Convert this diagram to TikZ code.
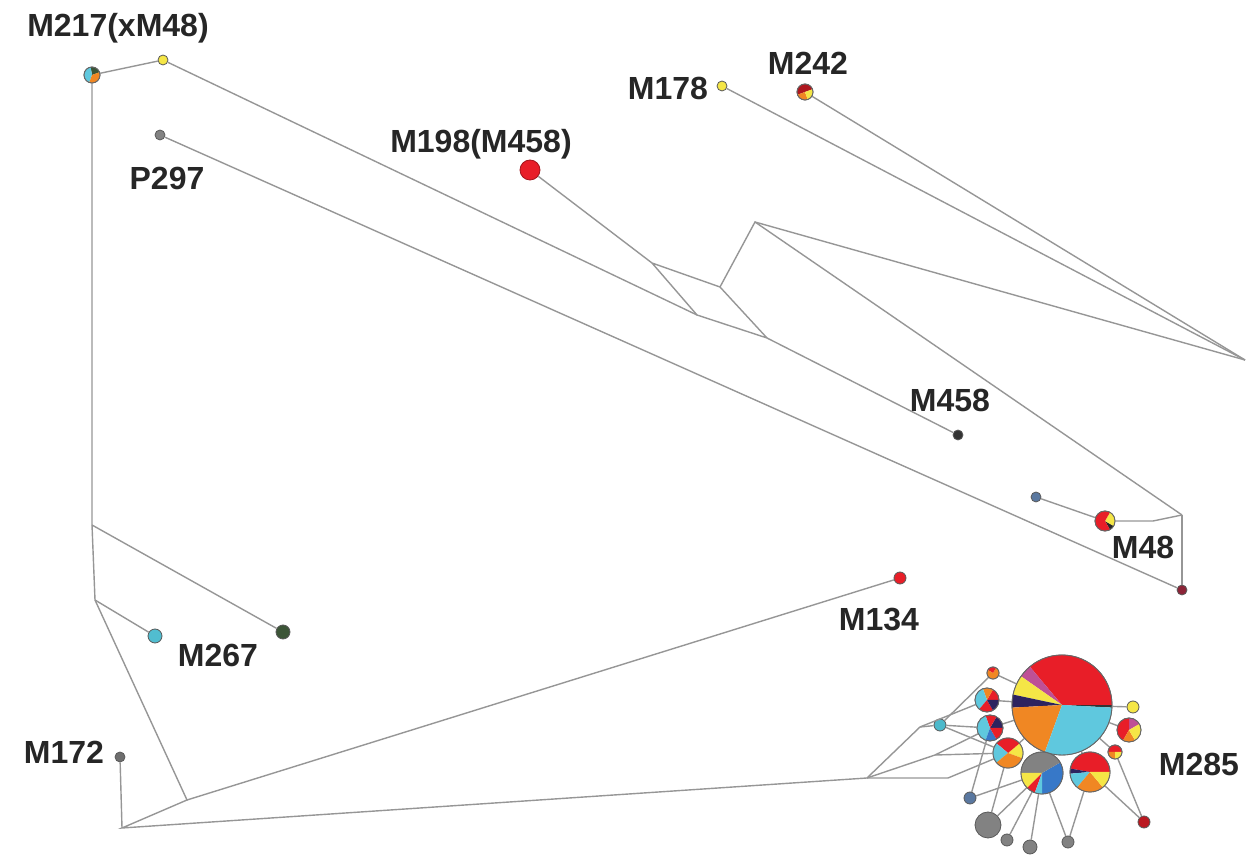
\documentclass[tikz,border=0pt]{standalone}
\usepackage{fontspec}
\setmainfont{Liberation Sans}
\usetikzlibrary{positioning,calc}
\definecolor{hred}{RGB}{232,30,40}
\definecolor{hcyan}{RGB}{95,200,222}
\definecolor{horange}{RGB}{240,135,35}
\definecolor{hyellow}{RGB}{245,230,70}
\definecolor{hgray}{RGB}{130,130,130}
\definecolor{hnavy}{RGB}{45,35,95}
\definecolor{hblue}{RGB}{55,120,200}
\definecolor{hmag}{RGB}{190,80,150}
\definecolor{hgreen}{RGB}{60,85,55}
\definecolor{hmaroon}{RGB}{140,35,55}
\definecolor{hsteel}{RGB}{90,120,160}
\definecolor{linkgray}{RGB}{150,150,150}
\tikzset{
  hap/.style={circle,draw=black!65,line width=0.4pt,inner sep=0pt},
  pieedge/.style={draw=black!60,line width=0.45pt},
  link/.style={draw=linkgray,line width=0.7pt},
  lbl/.style={font=\fontsize{16}{16}\selectfont\bfseries,text=black!85,inner sep=0pt},
}
% pie chart filling a haplotype circle
\newcommand{\hapie}[3]{%
  \foreach \sa/\sb/\col in {#3}{%
    \fill[\col] (#1.center) -- ++(\sa:#2) arc[start angle=\sa,end angle=\sb,radius=#2] -- cycle;}%
  \draw[pieedge] (#1.center) circle[radius=#2];}

\begin{document}
\begin{tikzpicture}[x=0.5pt,y=-0.5pt]
\useasboundingbox (0,0) rectangle (1250,855);

% haplotypes
\node[hap,minimum size=8pt] (m217) at (92,75) {};
\node[hap,fill=hyellow,minimum size=5pt] (y217) at (163,60) {};
\node[hap,fill=hgray,minimum size=5pt] (p297) at (160,135) {};
\node[hap,fill=hred,draw=hred!70!black,minimum size=10pt] (m198) at (530,170) {};
\node[hap,fill=hyellow,minimum size=5pt] (m178) at (722,86) {};
\node[hap,minimum size=8pt] (m242) at (805,92) {};
\node[hap,fill=black!80,minimum size=5pt] (m458) at (958,435) {};
\node[hap,minimum size=10pt] (m48) at (1105,521) {};
\node[hap,fill=hsteel,minimum size=5pt] (b48) at (1036,497) {};
\node[hap,fill=hmaroon,minimum size=5pt] (r48) at (1182,590) {};
\node[hap,fill=hred,minimum size=6pt] (m134) at (900,578) {};
\node[hap,fill=hcyan!85!teal,minimum size=7pt] (m267) at (155,636) {};
\node[hap,fill=hgreen,minimum size=7pt] (g267) at (283,632) {};
\node[hap,fill=hgray!85!black,minimum size=5pt] (m172) at (120,757) {};

% M285 cluster
\node[hap,minimum size=50pt] (c0) at (1062,705) {};
\node[hap,minimum size=6pt] (c1) at (993,673) {};
\node[hap,minimum size=12pt] (c2) at (987,700) {};
\node[hap,fill=hcyan!80!teal,minimum size=6pt] (c3) at (940,725) {};
\node[hap,minimum size=13pt] (c4) at (990,728) {};
\node[hap,minimum size=15pt] (c5) at (1008,753) {};
\node[hap,minimum size=21pt] (c6) at (1042,773) {};
\node[hap,minimum size=20pt] (c7) at (1090,772) {};
\node[hap,fill=hyellow,minimum size=6pt] (c8) at (1133,707) {};
\node[hap,minimum size=12pt] (c9) at (1129,730) {};
\node[hap,minimum size=7pt] (c10) at (1115,752) {};
\node[hap,fill=hsteel,minimum size=6pt] (c11) at (970,798) {};
\node[hap,fill=hgray,minimum size=13pt] (c12) at (988,825) {};
\node[hap,fill=hgray,minimum size=6pt] (c13) at (1007,840) {};
\node[hap,fill=hgray,minimum size=7pt] (c14) at (1030,847) {};
\node[hap,fill=hgray,minimum size=6pt] (c16) at (1068,842) {};
\node[hap,fill=hred!80!black,minimum size=6pt] (c15) at (1144,822) {};

% median vectors
\coordinate (a) at (652,263);
\coordinate (b) at (720,287);
\coordinate (c) at (697,315);
\coordinate (d) at (767,338);
\coordinate (e) at (755,222);
\coordinate (f) at (1245,360);
\coordinate (j) at (1182,515);
\coordinate (k) at (1153,521);
\coordinate (v1) at (92,525);
\coordinate (v2) at (95,600);
\coordinate (v3) at (187,800);
\coordinate (v4) at (122,828);
\coordinate (q1) at (867,778);
\coordinate (q2) at (920,727);
\coordinate (q3) at (948,778);
\coordinate (q4) at (935,755);

% links
\draw[link] (m217)--(y217);
\draw[link] (m217)--(v1)--(v2)--(v3)--(v4)--(q1);
\draw[link] (v1)--(g267);
\draw[link] (v2)--(m267);
\draw[link] (v3)--(m134);
\draw[link] (v4)--(m172);
\draw[link] (y217)--(c);
\draw[link] (m198)--(a);
\draw[link] (a)--(b)--(d)--(c)--(a);
\draw[link] (d)--(m458);
\draw[link] (b)--(e)--(f);
\draw[link] (e)--(j);
\draw[link] (m178)--(f);
\draw[link] (m242)--(f);
\draw[link] (j)--(k)--(m48);
\draw[link] (j)--(r48);
\draw[link] (b48)--(m48);
\draw[link] (p297)--(r48);

\draw[link] (q1)--(q2)--(c3);
\draw[link] (q1)--(q3)--(c5);
\draw[link] (q1)--(q4)--(c5);
\draw[link] (q2)--(c2);
\draw[link] (q4)--(c4);
\draw[link] (c3)--(c1);
\draw[link] (c3)--(c4);
\draw[link] (c3)--(c5);
\foreach \n in {c1,c2,c4,c5,c7,c8,c9,c10}
  \draw[link] (c0)--(\n);
\foreach \n in {c11,c12,c13,c14,c16}
  \draw[link] (c6)--(\n);
\draw[link] (c11)--(c4);
\draw[link] (c12)--(c5);
\draw[link] (c16)--(c7);
\draw[link] (c15)--(c7);
\draw[link] (c15)--(c10);

% pies
\hapie{m217}{4pt}{20/100/hgreen,100/250/hcyan,250/380/horange}
\hapie{m242}{4pt}{20/200/hred!75!black,200/290/horange,290/380/hyellow}
\hapie{m48}{5pt}{-60/-30/black!85,-30/60/hyellow,60/300/hred}
\hapie{c0}{25pt}{-3/0/black!80,0/130/hred,130/145/hmag,145/168/hyellow,168/183/hnavy,183/250/horange,250/357/hcyan}
\hapie{c1}{3pt}{0/60/horange,60/150/hred,150/360/horange}
\hapie{c2}{6pt}{0/60/hred,60/110/horange,110/230/hcyan,230/300/hred,300/360/hnavy}
\hapie{c4}{6.5pt}{0/60/hnavy,60/110/hred,110/250/hcyan,250/300/hblue,300/360/hred}
\hapie{c5}{7.5pt}{-20/40/hyellow,40/140/hred,140/220/hcyan,220/340/horange}
\hapie{c6}{10.5pt}{-90/30/hblue,30/180/hgray,180/225/hyellow,225/250/hred,250/270/hcyan}
\hapie{c7}{10pt}{0/170/hred,170/185/hnavy,185/230/hcyan,230/310/horange,310/360/hyellow}
\hapie{c9}{6pt}{30/90/hmag,90/240/hred,240/300/horange,300/390/hyellow}
\hapie{c10}{3.5pt}{0/180/hred,180/270/horange,270/360/hyellow}

% labels
\node[lbl] (t217) at (118,28) {M217(xM48)};
\node[lbl] (t297) at (167,178) {P297};
\node[lbl] (t198) at (481,144) {M198(M458)};
\node[lbl] (t178) at (668,88) {M178};
\node[lbl] (t242) at (808,63) {M242};
\node[lbl] (t458) at (950,400) {M458};
\node[lbl] (t48) at (1143,547) {M48};
\node[lbl] (t134) at (879,620) {M134};
\node[lbl] (t267) at (218,655) {M267};
\node[lbl] (t172) at (64,752) {M172};
\node[lbl] (t285) at (1199,764) {M285};
\end{tikzpicture}
\end{document}
